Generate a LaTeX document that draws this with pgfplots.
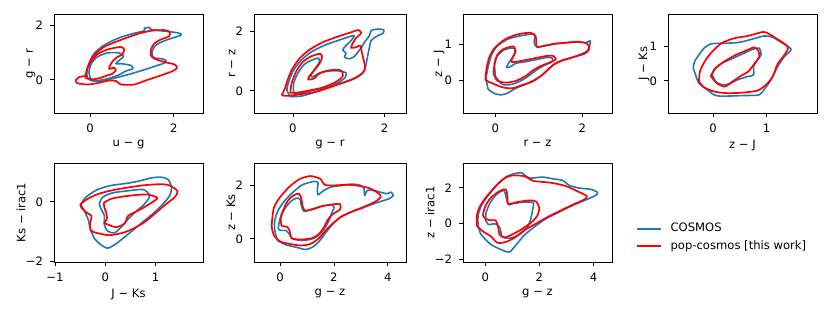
\documentclass[border=0pt]{standalone}
\usepackage{fontspec}
\setmainfont{DejaVu Sans}
\usepackage{pgfplots}
\pgfplotsset{compat=1.18}
\definecolor{cblue}{HTML}{1F77B4}
\definecolor{cred}{HTML}{FF0000}
\newcommand\ff{\fontsize{5.8}{7}\selectfont}
\pgfplotsset{
  panel/.style={scale only axis, width=74.5pt, height=49.25pt, anchor=north west,
    tick align=outside, xtick pos=bottom, ytick pos=left, major tick length=2pt,
    tick style={black, line width=0.4pt}, axis line style={line width=0.4pt},
    tick label style={font=\ff}, label style={font=\ff},
    xlabel shift=-3.2pt, ylabel shift=-6.75pt,
    /pgf/number format/assume math mode=true, clip=true},
  cb/.style={cblue, line width=0.8pt, line join=round, smooth, tension=0.45, mark=none},
  cr/.style={cred, line width=0.85pt, line join=round, smooth, tension=0.45, mark=none},
}
\begin{document}
\begin{tikzpicture}
\path[use as bounding box] (0,0) rectangle (415pt,156pt);
% ---------- Panel 1 ----------
\begin{axis}[panel, at={(27pt,148.75pt)}, xmin=-0.86, xmax=2.7, ymin=-1.22, ymax=2.4,
  xtick={0,2}, ytick={0,2}, xlabel={u − g}, ylabel={g − r}]
\addplot[cb] coordinates {(-0.064,0.099)(0.016,-0.025)(0.256,-0.062)(0.416,0.0)(0.896,0.185)(1.296,0.370)(1.616,0.531)(1.776,0.617)(1.816,0.716)(1.696,0.778)(1.520,0.815)(1.480,1.025)(1.576,1.272)(1.816,1.457)(2.176,1.642)(2.096,1.728)(1.696,1.802)(1.456,1.852)(1.416,1.926)(1.296,1.889)(1.296,1.802)(0.976,1.679)(0.656,1.519)(0.336,1.272)(0.096,0.963)(-0.024,0.593)(-0.080,0.321)(-0.064,0.099)};
\addplot[cb] coordinates {(0.016,0.037)(-0.024,0.284)(0.032,0.593)(0.176,0.840)(0.416,0.988)(0.696,0.988)(0.800,0.864)(0.696,0.716)(0.616,0.593)(0.736,0.593)(0.976,0.531)(1.024,0.407)(0.856,0.321)(0.656,0.160)(0.416,0.037)(0.176,-0.025)(0.016,0.037)};
\addplot[cr] coordinates {(-0.344,-0.025)(-0.264,0.099)(-0.104,0.160)(-0.064,0.407)(0.016,0.716)(0.136,0.963)(0.336,1.210)(0.616,1.395)(0.896,1.556)(1.176,1.704)(1.456,1.802)(1.776,1.827)(1.896,1.765)(1.896,1.605)(1.696,1.481)(1.536,1.333)(1.456,1.111)(1.456,0.901)(1.536,0.778)(1.776,0.654)(2.016,0.568)(2.080,0.444)(1.976,0.321)(1.696,0.160)(1.376,0.0)(1.056,-0.173)(0.736,-0.173)(0.632,-0.049)(0.456,-0.025)(0.176,-0.123)(-0.064,-0.173)(-0.304,-0.123)(-0.344,-0.025)};
\addplot[cr] coordinates {(-0.104,0.062)(-0.080,0.346)(0.016,0.654)(0.176,0.938)(0.416,1.111)(0.736,1.210)(0.816,1.111)(0.776,0.938)(0.656,0.840)(0.560,0.716)(0.480,0.531)(0.456,0.407)(0.576,0.444)(0.616,0.346)(0.536,0.222)(0.416,0.160)(0.256,0.074)(0.056,0.012)(-0.104,0.062)};
\end{axis}
% ---------- Panel 2 ----------
\begin{axis}[panel, width=76pt, at={(127pt,148.75pt)}, xmin=-0.85, xmax=2.47, ymin=-0.75, ymax=2.58,
  xtick={0,2}, ytick={0,2}, xlabel={g − r}, ylabel={r − z}]
\addplot[cb] coordinates {(-0.044,-0.201)(-0.131,0.022)(-0.080,0.358)(0.015,0.693)(0.175,1.028)(0.394,1.307)(0.679,1.531)(0.978,1.698)(1.234,1.832)(1.343,1.866)(1.270,1.698)(1.161,1.531)(1.088,1.385)(1.161,1.274)(1.124,1.140)(1.234,1.084)(1.343,1.162)(1.416,1.307)(1.504,1.475)(1.562,1.642)(1.672,1.866)(1.708,2.034)(1.854,2.089)(1.985,2.056)(1.964,1.944)(1.818,1.832)(1.708,1.698)(1.672,1.475)(1.635,1.196)(1.599,0.916)(1.562,0.693)(1.453,0.525)(1.270,0.380)(0.978,0.223)(0.686,0.078)(0.394,-0.089)(0.175,-0.179)(-0.044,-0.201)};
\addplot[cb] coordinates {(0.015,-0.089)(0.015,0.246)(0.102,0.581)(0.248,0.894)(0.431,1.050)(0.555,1.106)(0.577,0.972)(0.482,0.749)(0.394,0.525)(0.431,0.469)(0.577,0.603)(0.796,0.670)(1.015,0.670)(1.161,0.603)(1.139,0.447)(0.978,0.268)(0.686,0.112)(0.358,-0.011)(0.102,-0.089)(0.015,-0.089)};
\addplot[cr] coordinates {(-0.248,-0.156)(-0.175,0.078)(-0.117,0.358)(-0.029,0.693)(0.139,1.084)(0.358,1.385)(0.650,1.642)(0.978,1.832)(1.270,1.978)(1.431,2.056)(1.489,1.944)(1.380,1.788)(1.307,1.609)(1.270,1.453)(1.380,1.475)(1.474,1.531)(1.504,1.307)(1.547,1.028)(1.577,0.804)(1.526,0.603)(1.343,0.413)(1.088,0.268)(0.796,0.112)(0.504,-0.034)(0.175,-0.112)(-0.080,-0.168)(-0.248,-0.156)};
\addplot[cr] coordinates {(-0.058,-0.067)(-0.029,0.246)(0.066,0.637)(0.212,0.972)(0.394,1.162)(0.599,1.251)(0.635,1.117)(0.577,0.916)(0.467,0.693)(0.358,0.492)(0.336,0.380)(0.453,0.413)(0.577,0.581)(0.723,0.670)(0.942,0.715)(1.066,0.670)(1.088,0.492)(0.942,0.302)(0.650,0.112)(0.321,0.0)(0.066,-0.067)(-0.058,-0.067)};
\end{axis}
% ---------- Panel 3 ----------
\begin{axis}[panel, at={(231.5pt,148.75pt)}, xmin=-0.74, xmax=2.68, ymin=-0.92, ymax=1.85,
  xtick={0,2}, ytick={0,1}, xlabel={r − z}, ylabel={z − J}]
\addplot[cb] coordinates {(-0.162,-0.252)(-0.208,0.056)(-0.162,0.383)(-0.085,0.710)(0.046,0.963)(0.277,1.150)(0.546,1.243)(0.854,1.299)(0.915,1.243)(0.892,1.084)(0.946,0.944)(1.123,0.963)(1.354,1.019)(1.623,1.056)(1.892,1.075)(2.085,1.056)(2.177,1.112)(2.162,0.944)(2.085,0.804)(1.815,0.664)(1.546,0.570)(1.354,0.458)(1.223,0.308)(1.085,0.150)(0.892,0.009)(0.662,-0.131)(0.469,-0.224)(0.277,-0.364)(0.123,-0.411)(-0.031,-0.364)(-0.162,-0.252)};
\addplot[cb] coordinates {(0.008,0.103)(-0.015,0.430)(0.046,0.682)(0.200,0.850)(0.377,0.907)(0.454,0.869)(0.431,0.710)(0.354,0.570)(0.254,0.364)(0.354,0.383)(0.469,0.477)(0.700,0.523)(0.969,0.589)(1.200,0.645)(1.315,0.617)(1.300,0.523)(1.146,0.430)(0.969,0.308)(0.815,0.168)(0.623,0.009)(0.392,-0.112)(0.162,-0.112)(0.008,0.103)};
\addplot[cr] coordinates {(-0.223,0.009)(-0.200,0.336)(-0.131,0.664)(-0.008,0.916)(0.223,1.150)(0.508,1.290)(0.815,1.336)(0.931,1.224)(0.954,0.944)(1.123,0.972)(1.354,1.028)(1.623,1.056)(1.892,1.084)(2.100,1.037)(2.162,0.897)(2.069,0.757)(1.777,0.645)(1.508,0.542)(1.331,0.430)(1.200,0.290)(1.046,0.121)(0.854,-0.037)(0.623,-0.131)(0.392,-0.224)(0.162,-0.196)(-0.031,-0.103)(-0.162,-0.037)(-0.223,0.009)};
\addplot[cr] coordinates {(-0.038,0.187)(-0.015,0.477)(0.046,0.710)(0.177,0.869)(0.354,0.944)(0.431,0.944)(0.469,0.804)(0.408,0.664)(0.377,0.514)(0.623,0.551)(0.892,0.617)(1.162,0.682)(1.331,0.682)(1.392,0.589)(1.277,0.514)(1.046,0.402)(0.854,0.271)(0.700,0.121)(0.469,-0.019)(0.238,-0.065)(0.046,-0.009)(-0.038,0.187)};
\end{axis}
% ---------- Panel 4 ----------
\begin{axis}[panel, at={(334pt,148.75pt)}, xmin=-0.84, xmax=1.94, ymin=-0.92, ymax=1.9,
  xtick={0,1}, ytick={0,1}, xlabel={z − J}, ylabel={J − Ks}]
\addplot[cb] coordinates {(-0.369,0.362)(-0.344,0.552)(-0.263,0.743)(-0.169,0.933)(-0.044,1.057)(0.144,1.076)(0.456,1.095)(0.675,1.171)(0.956,1.286)(1.113,1.248)(1.300,1.076)(1.456,0.905)(1.331,0.695)(1.206,0.410)(1.081,0.029)(0.956,-0.238)(0.863,-0.400)(0.581,-0.419)(0.081,-0.429)(-0.106,-0.257)(-0.263,-0.067)(-0.325,0.171)(-0.369,0.362)};
\addplot[cb] coordinates {(-0.013,0.171)(0.019,0.333)(0.144,0.486)(0.331,0.619)(0.550,0.771)(0.738,0.905)(0.863,0.933)(0.894,0.743)(0.819,0.581)(0.756,0.410)(0.756,0.171)(0.644,0.124)(0.456,0.029)(0.300,-0.086)(0.175,-0.114)(0.050,-0.019)(-0.013,0.171)};
\addplot[cr] coordinates {(-0.263,-0.019)(-0.244,0.267)(-0.156,0.552)(-0.031,0.810)(0.156,1.076)(0.394,1.219)(0.644,1.286)(0.925,1.400)(0.988,1.390)(1.175,1.219)(1.394,0.981)(1.344,0.771)(1.206,0.486)(1.113,0.124)(0.988,-0.114)(0.831,-0.276)(0.581,-0.333)(0.269,-0.352)(0.019,-0.305)(-0.169,-0.181)(-0.263,-0.019)};
\addplot[cr] coordinates {(-0.044,0.143)(0.050,0.362)(0.206,0.552)(0.425,0.743)(0.675,0.905)(0.769,0.962)(0.844,0.867)(0.863,0.695)(0.769,0.486)(0.656,0.267)(0.519,0.143)(0.363,-0.019)(0.219,-0.162)(0.069,-0.067)(-0.044,0.143)};
\end{axis}
% ---------- Panel 5 ----------
\begin{axis}[panel, height=49.5pt, at={(27pt,74.5pt)}, xmin=-1.02, xmax=1.94, ymin=-2.03, ymax=1.31,
  xtick={-1,0,1}, xticklabels={−1,0,1}, ytick={-2,0}, yticklabels={−2,0}, xlabel={J − Ks}, ylabel={Ks − irac1}]
\addplot[cb] coordinates {(-0.487,-0.090)(-0.387,0.157)(-0.153,0.416)(0.113,0.551)(0.447,0.629)(0.713,0.719)(0.913,0.809)(1.113,0.831)(1.247,0.753)(1.313,0.494)(1.280,0.213)(1.147,-0.067)(0.980,-0.348)(0.780,-0.629)(0.580,-0.910)(0.380,-1.191)(0.213,-1.416)(0.047,-1.562)(-0.087,-1.449)(-0.220,-1.225)(-0.300,-0.910)(-0.340,-0.596)(-0.407,-0.348)(-0.487,-0.090)};
\addplot[cb] coordinates {(-0.120,-0.067)(-0.053,0.157)(0.147,0.303)(0.447,0.371)(0.747,0.416)(0.880,0.213)(0.780,-0.067)(0.593,-0.348)(0.447,-0.596)(0.313,-0.854)(0.180,-1.045)(0.047,-0.989)(-0.020,-0.775)(-0.020,-0.461)(-0.087,-0.236)(-0.120,-0.067)};
\addplot[cr] coordinates {(-0.500,-0.090)(-0.353,0.101)(-0.153,0.258)(0.113,0.382)(0.447,0.483)(0.780,0.562)(1.113,0.596)(1.280,0.551)(1.433,0.360)(1.380,0.157)(1.213,-0.067)(0.980,-0.404)(0.780,-0.685)(0.547,-0.910)(0.347,-1.045)(0.080,-1.124)(-0.153,-1.056)(-0.287,-0.966)(-0.300,-0.685)(-0.273,-0.483)(-0.387,-0.348)(-0.473,-0.202)(-0.500,-0.090)};
\addplot[cr] coordinates {(-0.033,-0.034)(0.113,0.101)(0.313,0.169)(0.580,0.225)(0.833,0.247)(1.033,0.135)(0.913,-0.034)(0.680,-0.270)(0.460,-0.461)(0.413,-0.629)(0.380,-0.742)(0.213,-0.854)(0.047,-0.764)(-0.020,-0.708)(0.033,-0.573)(0.013,-0.348)(-0.020,-0.180)(-0.033,-0.034)};
\end{axis}
% ---------- Panel 6 ----------
\begin{axis}[panel, width=76pt, height=49.5pt, at={(127pt,74.5pt)}, xmin=-0.97, xmax=4.68, ymin=-0.87, ymax=2.84,
  xtick={0,2,4}, ytick={0,2}, xlabel={g − z}, ylabel={z − Ks}]
\addplot[cb] coordinates {(-0.099,-0.063)(-0.198,0.313)(-0.198,0.688)(-0.074,1.063)(0.149,1.4)(0.458,1.725)(0.829,2.025)(1.262,2.15)(1.411,2.1)(1.386,1.875)(1.411,1.65)(1.572,1.775)(1.881,1.938)(2.314,2.0)(2.686,2.05)(2.995,2.0)(3.119,1.875)(3.144,1.625)(3.243,1.813)(3.490,1.813)(3.800,1.725)(3.985,1.688)(4.109,1.75)(4.208,1.625)(4.047,1.5)(3.738,1.4)(3.366,1.275)(2.995,1.125)(2.624,1.0)(2.277,0.838)(2.005,0.6)(1.757,0.313)(1.510,-0.025)(1.262,-0.275)(0.953,-0.4)(0.582,-0.313)(0.210,-0.225)(-0.099,-0.063)};
\addplot[cb] coordinates {(-0.074,0.375)(0.0,0.75)(0.173,1.125)(0.396,1.4)(0.619,1.525)(0.743,1.475)(0.792,1.25)(0.891,1.025)(1.139,1.1)(1.510,1.213)(1.881,1.275)(2.005,1.188)(1.906,0.938)(1.819,0.688)(1.658,0.4)(1.448,0.15)(1.200,0.0)(0.829,-0.063)(0.458,0.0)(0.334,0.188)(0.210,0.313)(0.025,0.313)(-0.074,0.375)};
\addplot[cr] coordinates {(-0.285,0.813)(-0.223,1.188)(0.0,1.563)(0.334,1.938)(0.705,2.225)(1.114,2.350)(1.485,2.250)(1.658,2.025)(2.005,2.0)(2.500,2.025)(2.995,1.975)(3.366,1.875)(3.676,1.688)(3.738,1.563)(3.552,1.4)(3.181,1.225)(2.686,1.025)(2.252,0.813)(1.943,0.563)(1.696,0.313)(1.448,0.025)(1.139,-0.188)(0.767,-0.25)(0.334,-0.188)(0.0,-0.1)(-0.223,0.125)(-0.309,0.438)(-0.285,0.813)};
\addplot[cr] coordinates {(0.050,0.475)(0.025,0.813)(0.149,1.150)(0.297,1.438)(0.495,1.625)(0.705,1.688)(0.792,1.5)(0.829,1.25)(0.916,1.063)(1.200,1.1)(1.572,1.225)(1.943,1.288)(2.228,1.3)(2.228,1.1)(1.943,0.913)(1.757,0.688)(1.634,0.438)(1.448,0.188)(1.200,0.025)(0.767,-0.025)(0.421,0.025)(0.371,0.25)(0.272,0.438)(0.050,0.475)};
\end{axis}
% ---------- Panel 7 ----------
\begin{axis}[panel, height=49.5pt, at={(231.5pt,74.5pt)}, xmin=-0.82, xmax=4.68, ymin=-2.17, ymax=3.39,
  xtick={0,2,4}, ytick={-2,0,2}, yticklabels={−2,0,2}, xlabel={g − z}, ylabel={z − irac1},
  legend style={at={(1.12,0.247)}, anchor=west, draw=none, fill=none, font=\ff,
    row sep=1.6pt, column sep=4pt, nodes={inner sep=0.6pt}},
  legend cell align=left,
  legend image code/.code={\draw[#1] (0pt,0pt) -- (11.7pt,0pt);}]
\addplot[cb] coordinates {(-0.173,-0.579)(-0.260,-0.112)(-0.260,0.449)(-0.136,1.009)(0.111,1.570)(0.446,2.168)(0.755,2.598)(1.064,2.785)(1.349,2.841)(1.498,2.654)(1.683,2.542)(2.116,2.598)(2.488,2.505)(2.859,2.411)(3.106,2.131)(3.478,1.981)(3.911,1.907)(4.158,1.720)(4.035,1.533)(3.663,1.290)(3.230,1.009)(2.735,0.636)(2.240,0.262)(1.807,-0.206)(1.436,-0.673)(1.126,-1.234)(0.879,-1.607)(0.569,-1.458)(0.260,-1.234)(0.037,-0.953)(-0.173,-0.579)};
\addlegendentry{COSMOS}
\addplot[cb, forget plot] coordinates {(0.012,0.168)(0.037,0.636)(0.198,1.196)(0.446,1.664)(0.693,1.850)(0.755,1.570)(0.854,1.047)(1.002,1.103)(1.436,1.196)(1.770,1.159)(1.745,0.729)(1.683,0.262)(1.559,-0.206)(1.312,-0.579)(0.941,-0.822)(0.631,-0.766)(0.569,-0.393)(0.483,-0.112)(0.322,-0.019)(0.136,-0.075)(0.012,0.168)};
\addplot[cr] coordinates {(-0.309,-0.150)(-0.309,0.449)(-0.210,0.916)(0.037,1.477)(0.384,2.093)(0.693,2.505)(1.002,2.692)(1.436,2.654)(1.621,2.505)(1.807,2.374)(2.426,2.280)(2.983,2.093)(3.416,1.794)(3.750,1.533)(3.663,1.346)(3.230,1.047)(2.797,0.729)(2.302,0.355)(1.869,-0.019)(1.436,-0.393)(1.126,-0.766)(0.755,-1.047)(0.446,-1.084)(0.198,-0.710)(-0.050,-0.486)(-0.309,-0.150)};
\addlegendentry{pop-cosmos [this work]}
\addplot[cr, forget plot] coordinates {(-0.087,0.449)(-0.012,0.916)(0.198,1.421)(0.507,1.794)(0.755,1.907)(0.817,1.570)(0.854,1.103)(1.188,1.196)(1.621,1.290)(1.869,1.234)(1.993,0.860)(1.931,0.449)(1.745,0.112)(1.436,-0.243)(1.126,-0.523)(0.730,-0.785)(0.532,-0.636)(0.483,-0.262)(0.384,0.168)(0.198,0.168)(0.012,0.262)(-0.087,0.449)};
\end{axis}
\end{tikzpicture}
\end{document}
